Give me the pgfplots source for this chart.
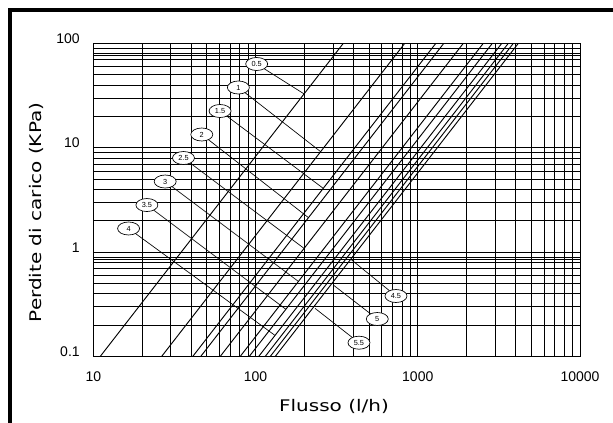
\documentclass[border=0pt]{standalone}
\usepackage{fontspec}
\setmainfont{Liberation Sans}
\newfontfamily\cadfont[FakeStretch=1.25]{DejaVu Sans}
\usepackage{pgfplots}
\pgfplotsset{compat=1.18}
\usetikzlibrary{shapes.geometric}

\tikzset{lbl/.style={ellipse, draw=black, fill=white, line width=0.5pt, minimum width=16.5pt, minimum height=9.75pt, inner sep=0pt, font=\fontsize{5.5}{6}\selectfont},
ldr/.style={black, line width=0.5pt}}

\begin{document}
\begin{tikzpicture}
\begin{axis}[
  at={(0,0)}, anchor=south west,
  scale only axis, width=365pt, height=235.05pt,
  xmode=log, ymode=log,
  xmin=10, xmax=10000, ymin=0.1, ymax=100,
  xtick={10,100,1000,10000}, xticklabels={10,100,1000,10000},
  ytick={0.1,1,10,100}, yticklabels={0.1,1,10,100},
  minor xtick={20,30,40,50,60,70,80,90,200,300,400,500,600,700,800,900,2000,3000,4000,5000,6000,7000,8000,9000},
  minor ytick={0.2,0.3,0.4,0.5,0.6,0.7,0.8,0.86,0.9,2,3,4,5,6,7,8,9,20,30,40,50,60,70,77,80,90},
  grid=both,
  major grid style={black, line width=0.55pt},
  minor grid style={black, line width=0.55pt},
  major tick length=0pt, minor tick length=0pt,
  axis line style={black, line width=0.6pt},
  ticklabel style={font=\fontsize{10.5}{12}\selectfont, inner sep=0pt},
  xticklabel style={anchor=north, yshift=-11.25pt},
  yticklabel style={anchor=east, xshift=-10pt, yshift=3.5pt},
  xlabel={Flusso (l/h)}, ylabel={Perdite di carico (KPa)},
  label style={font=\cadfont\fontsize{12}{14}\selectfont},
  xlabel style={at={(axis description cs:0.4946,-0.1573)}, anchor=center},
  ylabel style={at={(axis description cs:-0.1177,0.4601)}, anchor=center},
]
\addplot[black, line width=0.7pt] coordinates {(11.0,0.1) (347.8,100)};
\addplot[black, line width=0.7pt] coordinates {(26.3,0.1) (831.7,100)};
\addplot[black, line width=0.7pt] coordinates {(40.9,0.1) (1293,100)};
\addplot[black, line width=0.7pt] coordinates {(45.8,0.1) (1448,100)};
\addplot[black, line width=0.7pt] coordinates {(60.4,0.1) (1910,100)};
\addplot[black, line width=0.7pt] coordinates {(80.2,0.1) (2536,100)};
\addplot[black, line width=0.7pt] coordinates {(91.2,0.1) (2884,100)};
\addplot[black, line width=0.7pt] coordinates {(104.3,0.1) (3298,100)};
\addplot[black, line width=0.7pt] coordinates {(114.4,0.1) (3617,100)};
\addplot[black, line width=0.7pt] coordinates {(122.9,0.1) (3886,100)};
\addplot[black, line width=0.7pt] coordinates {(131.9,0.1) (4171,100)};

\draw[ldr] (axis description cs:0.3357,0.9340) -- (axis description cs:0.4331,0.8385);
\draw[ldr] (axis description cs:0.2981,0.8590) -- (axis description cs:0.4672,0.6541);
\draw[ldr] (axis description cs:0.2605,0.7840) -- (axis description cs:0.4724,0.5373);
\draw[ldr] (axis description cs:0.2229,0.7090) -- (axis description cs:0.4420,0.4438);
\draw[ldr] (axis description cs:0.1853,0.6340) -- (axis description cs:0.4331,0.3456);
\draw[ldr] (axis description cs:0.1477,0.5590) -- (axis description cs:0.4214,0.2403);
\draw[ldr] (axis description cs:0.1101,0.4840) -- (axis description cs:0.3957,0.1512);
\draw[ldr] (axis description cs:0.0725,0.4091) -- (axis description cs:0.3733,0.0680);
\draw[ldr] (axis description cs:0.6219,0.1937) -- (axis description cs:0.5309,0.3086);
\draw[ldr] (axis description cs:0.5835,0.1203) -- (axis description cs:0.4931,0.2288);
\draw[ldr] (axis description cs:0.5459,0.0447) -- (axis description cs:0.4555,0.1544);

\node[lbl] at (axis description cs:0.3357,0.9340) {0.5};
\node[lbl] at (axis description cs:0.2981,0.8590) {1};
\node[lbl] at (axis description cs:0.2605,0.7840) {1.5};
\node[lbl] at (axis description cs:0.2229,0.7090) {2};
\node[lbl] at (axis description cs:0.1853,0.6340) {2.5};
\node[lbl] at (axis description cs:0.1477,0.5590) {3};
\node[lbl] at (axis description cs:0.1101,0.4840) {3.5};
\node[lbl] at (axis description cs:0.0725,0.4091) {4};
\node[lbl] at (axis description cs:0.6219,0.1937) {4.5};
\node[lbl] at (axis description cs:0.5835,0.1203) {5};
\node[lbl] at (axis description cs:0.5459,0.0447) {5.5};
\end{axis}
\draw[line width=2.7pt, line join=miter] (-62.3pt,-60pt) -- (-62.3pt,259.9pt) -- (400pt,259.9pt);
\pgfresetboundingbox
\path[use as bounding box] (-69.98pt,-48.98pt) rectangle (389.78pt,267.53pt);
\end{tikzpicture}
\end{document}
